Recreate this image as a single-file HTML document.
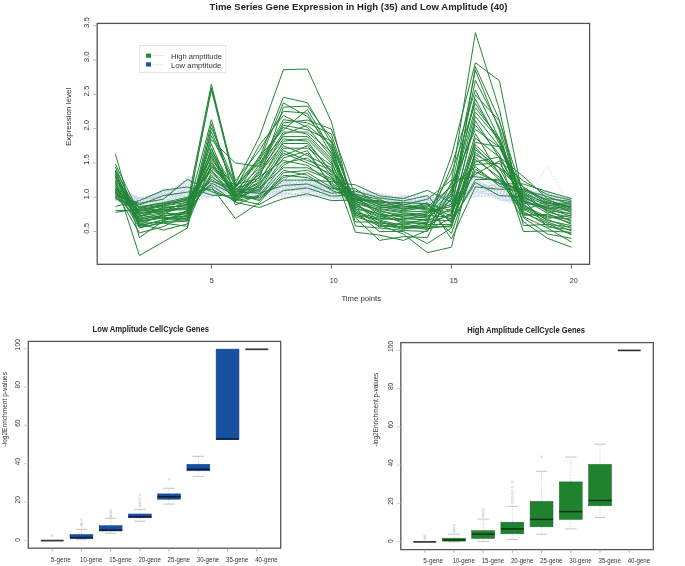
<!DOCTYPE html><html><head><meta charset="utf-8"><style>html,body{margin:0;padding:0;background:#fff;}svg{display:block;will-change:transform;}text{font-family:"Liberation Sans",sans-serif;}</style></head><body>
<svg width="685" height="566" viewBox="0 0 685 566">

<g fill="none" stroke="#8fa2da" stroke-width="0.9" stroke-dasharray="1.2,2" opacity="0.55">
<polyline points="115.4,196.2 139.4,198.5 163.4,197.7 187.4,179.4 211.4,191.9 235.4,193.0 259.4,187.4 283.4,185.1 307.4,191.9 331.4,191.3 355.4,202.5 379.4,203.4 403.4,205.3 427.4,201.6 451.4,193.4 475.4,178.7 499.4,192.7 523.4,203.4 547.4,166.0 571.4,208.9"/>
<polyline points="115.4,184.8 139.4,201.0 163.4,194.0 187.4,192.8 211.4,191.5 235.4,189.8 259.4,183.5 283.4,177.2 307.4,176.6 331.4,183.4 355.4,199.4 379.4,206.7 403.4,197.2 427.4,209.0 451.4,191.2 475.4,177.5 499.4,181.1 523.4,193.9 547.4,196.7 571.4,197.2"/>
<polyline points="115.4,191.4 139.4,203.2 163.4,199.5 187.4,180.2 211.4,188.0 235.4,186.7 259.4,191.9 283.4,179.3 307.4,194.0 331.4,197.9 355.4,193.6 379.4,193.1 403.4,200.4 427.4,209.4 451.4,196.5 475.4,197.2 499.4,182.2 523.4,204.8 547.4,203.5 571.4,199.0"/>
<polyline points="115.4,191.0 139.4,205.7 163.4,198.1 187.4,183.0 211.4,195.4 235.4,195.4 259.4,188.4 283.4,184.5 307.4,180.9 331.4,186.5 355.4,196.3 379.4,200.1 403.4,204.0 427.4,198.9 451.4,198.7 475.4,191.0 499.4,197.5 523.4,197.8 547.4,200.4 571.4,206.0"/>
<polyline points="115.4,185.7 139.4,201.6 163.4,189.4 187.4,197.7 211.4,189.7 235.4,187.7 259.4,185.2 283.4,177.7 307.4,189.3 331.4,192.7 355.4,189.7 379.4,194.2 403.4,198.4 427.4,207.8 451.4,192.5 475.4,194.7 499.4,184.8 523.4,192.5 547.4,191.4 571.4,197.9"/>
<polyline points="115.4,187.4 139.4,205.1 163.4,192.6 187.4,196.3 211.4,181.8 235.4,185.2 259.4,184.5 283.4,180.9 307.4,187.2 331.4,184.8 355.4,200.6 379.4,201.2 403.4,204.4 427.4,198.5 451.4,201.8 475.4,187.4 499.4,184.3 523.4,200.9 547.4,202.5 571.4,201.4"/>
<polyline points="115.4,183.9 139.4,198.1 163.4,198.6 187.4,190.0 211.4,185.3 235.4,183.5 259.4,184.9 283.4,195.6 307.4,183.0 331.4,190.0 355.4,198.6 379.4,194.9 403.4,205.7 427.4,203.6 451.4,197.4 475.4,174.4 499.4,200.1 523.4,198.7 547.4,190.3 571.4,203.5"/>
<polyline points="115.4,197.1 139.4,202.9 163.4,201.8 187.4,200.5 211.4,184.0 235.4,192.6 259.4,189.1 283.4,187.2 307.4,179.8 331.4,199.3 355.4,190.9 379.4,194.6 403.4,209.3 427.4,207.4 451.4,203.5 475.4,192.9 499.4,187.4 523.4,191.2 547.4,192.5 571.4,207.0"/>
<polyline points="115.4,190.5 139.4,202.3 163.4,197.2 187.4,178.7 211.4,188.4 235.4,191.2 259.4,193.3 283.4,188.8 307.4,181.4 331.4,195.3 355.4,198.3 379.4,195.7 403.4,207.3 427.4,207.0 451.4,204.8 475.4,196.0 499.4,194.3 523.4,204.0 547.4,204.1 571.4,206.7"/>
<polyline points="115.4,199.7 139.4,208.9 163.4,205.4 187.4,204.1 211.4,195.0 235.4,195.8 259.4,193.0 283.4,196.7 307.4,195.6 331.4,194.9 355.4,203.3 379.4,205.6 403.4,210.5 427.4,210.9 451.4,206.6 475.4,184.9 499.4,199.6 523.4,206.2 547.4,200.9 571.4,205.6"/>
<polyline points="115.4,183.5 139.4,199.1 163.4,190.8 187.4,197.0 211.4,184.9 235.4,184.5 259.4,194.4 283.4,178.7 307.4,190.3 331.4,182.6 355.4,189.0 379.4,202.7 403.4,200.8 427.4,202.4 451.4,198.3 475.4,178.1 499.4,196.9 523.4,202.2 547.4,206.2 571.4,207.7"/>
<polyline points="115.4,184.4 139.4,199.4 163.4,196.3 187.4,188.6 211.4,187.5 235.4,183.8 259.4,187.0 283.4,187.7 307.4,191.4 331.4,186.1 355.4,195.2 379.4,200.5 403.4,206.5 427.4,197.8 451.4,195.6 475.4,173.8 499.4,189.0 523.4,201.3 547.4,208.8 571.4,200.0"/>
<polyline points="115.4,200.2 139.4,204.2 163.4,189.9 187.4,190.7 211.4,183.6 235.4,190.9 259.4,192.3 283.4,191.9 307.4,185.6 331.4,189.1 355.4,201.0 379.4,207.5 403.4,201.6 427.4,200.5 451.4,196.1 475.4,181.8 499.4,189.6 523.4,201.8 547.4,208.3 571.4,202.1"/>
<polyline points="115.4,198.0 139.4,197.2 163.4,205.9 187.4,187.9 211.4,194.1 235.4,193.3 259.4,191.6 283.4,178.2 307.4,184.0 331.4,197.1 355.4,202.1 379.4,206.4 403.4,199.6 427.4,205.5 451.4,205.3 475.4,193.5 499.4,186.9 523.4,190.8 547.4,199.3 571.4,202.5"/>
<polyline points="115.4,186.1 139.4,198.8 163.4,196.7 187.4,180.9 211.4,180.9 235.4,194.0 259.4,195.8 283.4,179.8 307.4,177.2 331.4,183.0 355.4,191.3 379.4,197.5 403.4,207.7 427.4,204.3 451.4,190.8 475.4,179.4 499.4,193.8 523.4,196.1 547.4,196.1 571.4,210.2"/>
<polyline points="115.4,190.1 139.4,197.5 163.4,193.5 187.4,194.2 211.4,190.6 235.4,194.4 259.4,196.1 283.4,189.8 307.4,188.8 331.4,183.9 355.4,195.9 379.4,204.9 403.4,208.5 427.4,203.2 451.4,194.7 475.4,175.7 499.4,183.2 523.4,203.5 547.4,204.6 571.4,205.3"/>
<polyline points="115.4,191.8 139.4,200.4 163.4,202.7 187.4,185.1 211.4,194.6 235.4,187.4 259.4,192.6 283.4,185.6 307.4,183.5 331.4,192.2 355.4,204.1 379.4,202.3 403.4,208.9 427.4,205.1 451.4,199.1 475.4,180.0 499.4,199.0 523.4,205.7 547.4,198.8 571.4,202.8"/>
<polyline points="115.4,194.5 139.4,206.1 163.4,203.1 187.4,203.4 211.4,192.8 235.4,188.4 259.4,186.3 283.4,183.0 307.4,179.3 331.4,191.8 355.4,201.3 379.4,200.8 403.4,198.8 427.4,199.3 451.4,202.6 475.4,188.6 499.4,192.2 523.4,200.0 547.4,209.9 571.4,208.4"/>
<polyline points="115.4,186.6 139.4,201.3 163.4,195.8 187.4,184.4 211.4,188.9 235.4,190.2 259.4,184.2 283.4,181.4 307.4,182.4 331.4,193.5 355.4,190.5 379.4,193.5 403.4,195.5 427.4,195.8 451.4,195.2 475.4,176.9 499.4,180.1 523.4,191.7 547.4,191.9 571.4,200.4"/>
<polyline points="115.4,194.0 139.4,204.8 163.4,206.3 187.4,201.2 211.4,193.2 235.4,194.7 259.4,194.7 283.4,197.2 307.4,197.2 331.4,190.5 355.4,197.1 379.4,199.0 403.4,202.8 427.4,202.8 451.4,202.2 475.4,195.4 499.4,198.5 523.4,202.6 547.4,210.4 571.4,210.9"/>
<polyline points="115.4,189.6 139.4,199.7 163.4,191.7 187.4,181.6 211.4,189.3 235.4,184.9 259.4,188.1 283.4,188.2 307.4,193.5 331.4,182.1 355.4,195.5 379.4,197.9 403.4,201.2 427.4,200.9 451.4,193.9 475.4,185.5 499.4,185.3 523.4,190.3 547.4,197.2 571.4,198.6"/>
<polyline points="115.4,189.2 139.4,204.5 163.4,189.0 187.4,191.4 211.4,184.5 235.4,187.0 259.4,196.5 283.4,192.5 307.4,196.1 331.4,189.6 355.4,194.4 379.4,197.1 403.4,197.6 427.4,206.3 451.4,207.5 475.4,175.1 499.4,181.6 523.4,198.3 547.4,205.6 571.4,209.5"/>
<polyline points="115.4,200.6 139.4,206.7 163.4,194.9 187.4,201.9 211.4,195.9 235.4,195.1 259.4,190.9 283.4,196.1 307.4,181.9 331.4,187.8 355.4,196.7 379.4,206.0 403.4,210.1 427.4,210.1 451.4,200.9 475.4,192.3 499.4,196.4 523.4,193.4 547.4,209.3 571.4,203.2"/>
<polyline points="115.4,185.2 139.4,207.6 163.4,200.9 187.4,189.3 211.4,196.3 235.4,185.6 259.4,188.8 283.4,182.4 307.4,190.9 331.4,184.3 355.4,200.2 379.4,199.4 403.4,196.4 427.4,203.9 451.4,190.3 475.4,190.4 499.4,182.7 523.4,193.0 547.4,201.9 571.4,209.9"/>
<polyline points="115.4,198.4 139.4,203.8 163.4,203.6 187.4,183.7 211.4,193.7 235.4,196.5 259.4,187.7 283.4,180.3 307.4,180.3 331.4,194.4 355.4,197.9 379.4,196.4 403.4,206.9 427.4,208.6 451.4,207.0 475.4,191.7 499.4,186.4 523.4,194.3 547.4,207.2 571.4,201.1"/>
<polyline points="115.4,192.7 139.4,209.5 163.4,204.1 187.4,193.5 211.4,197.2 235.4,196.8 259.4,185.6 283.4,194.0 307.4,192.5 331.4,188.3 355.4,197.5 379.4,207.1 403.4,210.9 427.4,209.7 451.4,199.6 475.4,188.0 499.4,183.8 523.4,207.0 547.4,205.1 571.4,209.2"/>
<polyline points="115.4,195.8 139.4,201.9 163.4,192.2 187.4,199.8 211.4,191.0 235.4,184.2 259.4,190.5 283.4,194.6 307.4,178.7 331.4,197.5 355.4,199.0 379.4,201.6 403.4,195.1 427.4,206.7 451.4,200.0 475.4,180.6 499.4,200.6 523.4,200.5 547.4,195.1 571.4,201.8"/>
<polyline points="115.4,194.9 139.4,203.5 163.4,200.4 187.4,178.0 211.4,181.4 235.4,196.1 259.4,195.1 283.4,176.6 307.4,178.2 331.4,188.7 355.4,202.9 379.4,203.8 403.4,196.8 427.4,197.4 451.4,196.9 475.4,182.4 499.4,191.1 523.4,194.7 547.4,193.0 571.4,204.9"/>
<polyline points="115.4,187.0 139.4,202.6 163.4,199.9 187.4,176.6 211.4,182.3 235.4,186.0 259.4,189.8 283.4,186.7 307.4,184.5 331.4,185.2 355.4,193.2 379.4,196.8 403.4,204.8 427.4,201.2 451.4,191.7 475.4,186.7 499.4,191.7 523.4,195.2 547.4,198.3 571.4,204.2"/>
<polyline points="115.4,199.3 139.4,205.4 163.4,193.1 187.4,202.6 211.4,196.8 235.4,188.1 259.4,197.2 283.4,195.1 307.4,193.0 331.4,187.4 355.4,192.8 379.4,195.3 403.4,203.2 427.4,204.7 451.4,205.7 475.4,189.2 499.4,198.0 523.4,207.5 547.4,206.7 571.4,197.6"/>
<polyline points="115.4,197.6 139.4,200.7 163.4,191.3 187.4,185.8 211.4,192.4 235.4,189.5 259.4,195.4 283.4,186.1 307.4,186.7 331.4,187.0 355.4,190.1 379.4,201.9 403.4,202.4 427.4,208.2 451.4,197.8 475.4,196.6 499.4,194.8 523.4,192.1 547.4,203.0 571.4,206.3"/>
<polyline points="115.4,198.9 139.4,207.0 163.4,199.0 187.4,177.3 211.4,180.1 235.4,190.5 259.4,183.8 283.4,183.5 307.4,185.1 331.4,185.6 355.4,203.7 379.4,198.3 403.4,199.2 427.4,196.6 451.4,192.1 475.4,194.1 499.4,193.2 523.4,196.9 547.4,194.0 571.4,204.6"/>
<polyline points="115.4,195.4 139.4,209.2 163.4,205.0 187.4,187.2 211.4,190.2 235.4,191.9 259.4,190.2 283.4,193.0 307.4,195.1 331.4,196.2 355.4,189.4 379.4,205.3 403.4,209.7 427.4,202.0 451.4,203.1 475.4,181.2 499.4,190.6 523.4,204.4 547.4,210.9 571.4,207.4"/>
<polyline points="115.4,188.8 139.4,206.4 163.4,204.5 187.4,186.5 211.4,186.7 235.4,186.3 259.4,196.8 283.4,181.9 307.4,188.2 331.4,195.7 355.4,199.8 379.4,204.2 403.4,206.1 427.4,197.0 451.4,201.3 475.4,189.8 499.4,195.4 523.4,197.4 547.4,190.9 571.4,208.1"/>
<polyline points="115.4,187.9 139.4,208.6 163.4,202.2 187.4,192.1 211.4,182.7 235.4,188.8 259.4,186.7 283.4,190.9 307.4,177.7 331.4,190.9 355.4,191.7 379.4,204.5 403.4,200.0 427.4,199.7 451.4,200.5 475.4,183.7 499.4,188.0 523.4,199.6 547.4,201.4 571.4,199.7"/>
<polyline points="115.4,196.7 139.4,208.0 163.4,206.8 187.4,199.1 211.4,180.5 235.4,197.2 259.4,186.0 283.4,193.5 307.4,196.7 331.4,194.0 355.4,192.1 379.4,196.0 403.4,203.6 427.4,198.1 451.4,204.0 475.4,176.3 499.4,188.5 523.4,196.5 547.4,207.7 571.4,198.3"/>
<polyline points="115.4,188.3 139.4,197.8 163.4,195.4 187.4,194.9 211.4,183.1 235.4,191.6 259.4,194.0 283.4,190.3 307.4,189.8 331.4,198.4 355.4,192.5 379.4,193.8 403.4,198.0 427.4,205.9 451.4,193.0 475.4,183.1 499.4,195.9 523.4,206.6 547.4,197.7 571.4,208.8"/>
<polyline points="115.4,193.2 139.4,207.3 163.4,201.3 187.4,195.6 211.4,187.1 235.4,193.7 259.4,193.7 283.4,184.0 307.4,194.6 331.4,196.6 355.4,194.8 379.4,198.6 403.4,202.0 427.4,200.1 451.4,204.4 475.4,186.1 499.4,185.9 523.4,205.3 547.4,193.5 571.4,210.6"/>
<polyline points="115.4,193.6 139.4,200.0 163.4,194.5 187.4,182.3 211.4,185.8 235.4,192.3 259.4,191.2 283.4,191.4 307.4,187.7 331.4,193.1 355.4,201.7 379.4,203.1 403.4,196.0 427.4,196.2 451.4,194.3 475.4,173.2 499.4,180.6 523.4,195.6 547.4,195.6 571.4,199.3"/>
<polyline points="115.4,192.3 139.4,208.3 163.4,190.3 187.4,198.4 211.4,186.2 235.4,189.1 259.4,189.5 283.4,189.3 307.4,186.1 331.4,198.8 355.4,194.0 379.4,199.7 403.4,208.1 427.4,210.5 451.4,206.2 475.4,184.3 499.4,190.1 523.4,199.1 547.4,194.6 571.4,200.7"/>
</g>
<g fill="none" stroke="#228536" stroke-width="1" stroke-linejoin="miter">
<polyline points="115.4,197.7 139.4,217.2 163.4,208.6 187.4,204.3 211.4,163.2 235.4,197.1 259.4,164.6 283.4,119.7 307.4,122.9 331.4,134.0 355.4,208.1 379.4,227.1 403.4,222.7 427.4,223.6 451.4,166.4 475.4,90.0 499.4,138.8 523.4,198.7 547.4,213.4 571.4,224.3"/>
<polyline points="115.4,169.8 139.4,215.7 163.4,213.0 187.4,215.4 211.4,161.6 235.4,195.0 259.4,156.1 283.4,129.8 307.4,109.6 331.4,149.9 355.4,210.2 379.4,223.2 403.4,224.6 427.4,218.7 451.4,195.5 475.4,107.8 499.4,138.1 523.4,203.1 547.4,207.4 571.4,214.4"/>
<polyline points="115.4,190.2 139.4,223.9 163.4,230.0 187.4,223.9 211.4,166.5 235.4,188.2 259.4,145.1 283.4,115.5 307.4,127.5 331.4,156.6 355.4,199.5 379.4,208.5 403.4,211.9 427.4,211.3 451.4,206.5 475.4,142.4 499.4,146.8 523.4,191.8 547.4,204.7 571.4,210.5"/>
<polyline points="115.4,187.7 139.4,219.7 163.4,215.2 187.4,217.0 211.4,175.2 235.4,198.6 259.4,188.9 283.4,162.9 307.4,158.0 331.4,177.1 355.4,212.4 379.4,218.3 403.4,219.7 427.4,213.5 451.4,173.2 475.4,103.5 499.4,140.7 523.4,215.3 547.4,214.6 571.4,220.4"/>
<polyline points="115.4,192.7 139.4,210.2 163.4,211.5 187.4,201.6 211.4,168.2 235.4,188.9 259.4,180.1 283.4,145.8 307.4,155.6 331.4,167.6 355.4,213.5 379.4,220.2 403.4,225.6 427.4,229.5 451.4,218.3 475.4,116.4 499.4,146.7 523.4,200.6 547.4,210.0 571.4,221.7"/>
<polyline points="115.4,195.2 139.4,215.0 163.4,218.8 187.4,216.2 211.4,173.2 235.4,193.1 259.4,191.8 283.4,158.0 307.4,150.7 331.4,185.9 355.4,202.7 379.4,221.2 403.4,227.6 427.4,226.6 451.4,226.8 475.4,159.5 499.4,177.3 523.4,209.2 547.4,221.9 571.4,230.9"/>
<polyline points="115.4,191.1 139.4,218.1 163.4,213.7 187.4,213.7 211.4,149.8 235.4,190.3 259.4,168.1 283.4,125.2 307.4,129.8 331.4,141.1 355.4,205.9 379.4,214.3 403.4,216.8 427.4,217.8 451.4,199.9 475.4,94.8 499.4,120.9 523.4,195.7 547.4,210.9 571.4,213.5"/>
<polyline points="115.4,172.2 139.4,224.7 163.4,214.4 187.4,203.4 211.4,84.1 235.4,185.4 259.4,157.8 283.4,97.3 307.4,102.7 331.4,143.3 355.4,226.0 379.4,228.0 403.4,230.5 427.4,231.5 451.4,182.3 475.4,32.7 499.4,109.5 523.4,217.8 547.4,233.9 571.4,238.4"/>
<polyline points="115.4,183.2 139.4,222.2 163.4,217.4 187.4,218.7 211.4,153.7 235.4,193.8 259.4,200.6 283.4,172.7 307.4,170.3 331.4,180.1 355.4,197.0 379.4,204.5 403.4,209.0 427.4,205.9 451.4,215.8 475.4,154.6 499.4,167.6 523.4,186.9 547.4,202.1 571.4,209.5"/>
<polyline points="115.4,196.9 139.4,212.3 163.4,210.8 187.4,209.5 211.4,183.0 235.4,195.5 259.4,183.0 283.4,155.6 307.4,145.8 331.4,175.7 355.4,209.1 379.4,213.4 403.4,223.6 427.4,228.5 451.4,225.6 475.4,152.2 499.4,173.5 523.4,216.5 547.4,228.0 571.4,242.0"/>
<polyline points="115.4,175.9 139.4,227.2 163.4,223.2 187.4,226.3 211.4,135.8 235.4,186.1 259.4,161.2 283.4,102.9 307.4,116.5 331.4,147.7 355.4,211.3 379.4,231.6 403.4,231.5 427.4,243.6 451.4,228.0 475.4,138.0 499.4,157.2 523.4,201.9 547.4,206.5 571.4,211.5"/>
<polyline points="115.4,154.0 139.4,237.6 163.4,221.0 187.4,210.4 211.4,87.8 235.4,180.6 259.4,150.6 283.4,111.3 307.4,113.1 331.4,154.4 355.4,221.9 379.4,222.2 403.4,228.5 427.4,227.6 451.4,193.3 475.4,99.2 499.4,143.5 523.4,208.0 547.4,219.5 571.4,228.3"/>
<polyline points="115.4,174.7 139.4,225.6 163.4,220.3 187.4,212.9 211.4,159.6 235.4,186.8 259.4,159.5 283.4,127.5 307.4,134.4 331.4,158.8 355.4,204.8 379.4,216.3 403.4,221.7 427.4,224.6 451.4,224.4 475.4,144.8 499.4,168.1 523.4,211.6 547.4,225.6 571.4,233.6"/>
<polyline points="115.4,189.4 139.4,208.2 163.4,204.9 187.4,198.1 211.4,171.5 235.4,189.6 259.4,190.3 283.4,150.7 307.4,160.5 331.4,169.8 355.4,202.0 379.4,225.1 403.4,234.0 427.4,252.7 451.4,247.2 475.4,149.7 499.4,168.0 523.4,192.8 547.4,212.1 571.4,217.7"/>
<polyline points="115.4,185.7 139.4,221.4 163.4,216.6 187.4,211.2 211.4,119.7 235.4,199.7 259.4,184.5 283.4,148.2 307.4,148.2 331.4,165.4 355.4,232.2 379.4,235.1 403.4,240.4 427.4,230.5 451.4,197.7 475.4,80.2 499.4,127.4 523.4,206.7 547.4,218.3 571.4,215.4"/>
<polyline points="115.4,188.6 139.4,228.0 163.4,221.8 187.4,219.5 211.4,131.8 235.4,187.5 259.4,162.9 283.4,136.6 307.4,136.6 331.4,161.0 355.4,217.8 379.4,240.4 403.4,236.6 427.4,237.5 451.4,188.9 475.4,70.4 499.4,130.3 523.4,225.6 547.4,224.4 571.4,227.0"/>
<polyline points="115.4,194.4 139.4,206.8 163.4,202.7 187.4,197.2 211.4,186.9 235.4,218.5 259.4,202.6 283.4,175.2 307.4,177.6 331.4,188.9 355.4,188.7 379.4,205.5 403.4,207.0 427.4,204.8 451.4,221.9 475.4,182.5 499.4,195.7 523.4,196.7 547.4,209.1 571.4,205.6"/>
<polyline points="115.4,171.0 139.4,226.4 163.4,219.6 187.4,217.9 211.4,147.8 235.4,204.9 259.4,194.8 283.4,165.4 307.4,153.1 331.4,184.5 355.4,200.8 379.4,210.4 403.4,217.8 427.4,220.7 451.4,208.7 475.4,147.3 499.4,172.8 523.4,214.1 547.4,215.8 571.4,223.0"/>
<polyline points="115.4,198.6 139.4,209.5 163.4,205.6 187.4,202.5 211.4,181.0 235.4,191.0 259.4,193.3 283.4,185.4 307.4,184.0 331.4,193.3 355.4,191.2 379.4,197.9 403.4,200.9 427.4,195.6 451.4,223.2 475.4,179.6 499.4,179.3 523.4,194.8 547.4,205.6 571.4,203.7"/>
<polyline points="115.4,186.9 139.4,213.0 163.4,212.2 187.4,206.9 211.4,179.1 235.4,194.5 259.4,197.7 283.4,177.6 307.4,172.7 331.4,187.4 355.4,195.0 379.4,207.5 403.4,208.0 427.4,208.1 451.4,219.5 475.4,169.3 499.4,183.7 523.4,189.9 547.4,196.6 571.4,204.6"/>
<polyline points="115.4,196.1 139.4,203.3 163.4,199.2 187.4,179.4 211.4,191.6 235.4,199.2 259.4,204.5 283.4,190.6 307.4,187.9 331.4,196.2 355.4,194.4 379.4,199.3 403.4,209.9 427.4,202.7 451.4,239.0 475.4,186.9 499.4,189.3 523.4,188.9 547.4,200.3 571.4,207.6"/>
<polyline points="115.4,177.1 139.4,218.9 163.4,215.9 187.4,212.0 211.4,143.8 235.4,201.2 259.4,185.9 283.4,153.1 307.4,162.9 331.4,174.2 355.4,203.8 379.4,209.4 403.4,212.9 427.4,214.5 451.4,184.5 475.4,129.4 499.4,147.1 523.4,187.9 547.4,203.9 571.4,202.7"/>
<polyline points="115.4,193.6 139.4,205.0 163.4,195.6 187.4,192.1 211.4,189.3 235.4,200.7 259.4,196.2 283.4,170.3 307.4,175.2 331.4,190.3 355.4,198.9 379.4,201.6 403.4,204.1 427.4,209.1 451.4,212.1 475.4,171.7 499.4,183.7 523.4,184.0 547.4,191.7 571.4,198.6"/>
<polyline points="115.4,179.6 139.4,223.1 163.4,222.5 187.4,221.2 211.4,123.8 235.4,196.5 259.4,181.5 283.4,141.2 307.4,138.9 331.4,163.2 355.4,214.5 379.4,226.1 403.4,226.6 427.4,225.6 451.4,213.4 475.4,66.6 499.4,120.0 523.4,210.4 547.4,201.2 571.4,212.5"/>
<polyline points="115.4,164.2 139.4,213.7 163.4,209.3 187.4,207.8 211.4,90.2 235.4,184.7 259.4,178.3 283.4,107.1 307.4,106.1 331.4,138.9 355.4,207.0 379.4,217.3 403.4,213.8 427.4,215.6 451.4,217.0 475.4,133.7 499.4,174.4 523.4,221.7 547.4,238.3 571.4,247.2"/>
<polyline points="115.4,191.9 139.4,232.9 163.4,226.6 187.4,214.5 211.4,139.8 235.4,162.9 259.4,166.4 283.4,122.9 307.4,120.0 331.4,129.1 355.4,196.3 379.4,215.3 403.4,215.8 427.4,212.4 451.4,204.3 475.4,112.1 499.4,139.8 523.4,205.5 547.4,217.0 571.4,219.0"/>
<polyline points="115.4,206.4 139.4,200.6 163.4,190.3 187.4,187.0 211.4,195.1 235.4,196.0 259.4,199.2 283.4,180.1 307.4,180.1 331.4,181.5 355.4,184.9 379.4,195.8 403.4,198.6 427.4,190.3 451.4,202.1 475.4,174.2 499.4,160.9 523.4,181.0 547.4,194.7 571.4,200.3"/>
<polyline points="115.4,184.5 139.4,211.6 163.4,204.2 187.4,200.7 211.4,157.6 235.4,197.6 259.4,173.2 283.4,143.5 307.4,143.5 331.4,171.2 355.4,195.7 379.4,203.6 403.4,206.0 427.4,210.2 451.4,233.5 475.4,164.4 499.4,163.2 523.4,197.7 547.4,208.3 571.4,216.4"/>
<polyline points="115.4,173.5 139.4,216.4 163.4,207.1 187.4,206.0 211.4,155.7 235.4,198.1 259.4,169.8 283.4,132.1 307.4,132.1 331.4,152.2 355.4,215.6 379.4,219.2 403.4,218.7 427.4,219.7 451.4,220.7 475.4,157.0 499.4,179.8 523.4,212.9 547.4,223.2 571.4,234.9"/>
<polyline points="115.4,167.0 139.4,220.6 163.4,218.1 187.4,220.4 211.4,164.9 235.4,192.4 259.4,174.9 283.4,134.4 307.4,125.2 331.4,145.5 355.4,201.4 379.4,212.4 403.4,220.7 427.4,222.7 451.4,214.6 475.4,120.8 499.4,157.8 523.4,231.5 547.4,231.0 571.4,232.3"/>
<polyline points="115.4,182.0 139.4,207.5 163.4,203.4 187.4,199.0 211.4,185.0 235.4,202.3 259.4,207.5 283.4,198.6 307.4,193.8 331.4,200.6 355.4,200.1 379.4,200.6 403.4,205.0 427.4,199.2 451.4,180.1 475.4,176.6 499.4,181.2 523.4,190.8 547.4,199.5 571.4,208.6"/>
<polyline points="115.4,210.3 139.4,210.9 163.4,206.4 187.4,199.8 211.4,169.9 235.4,201.8 259.4,171.5 283.4,138.9 307.4,141.2 331.4,172.7 355.4,198.2 379.4,211.4 403.4,214.8 427.4,216.7 451.4,191.1 475.4,125.1 499.4,154.5 523.4,204.3 547.4,220.7 571.4,225.6"/>
<polyline points="115.4,212.3 139.4,208.9 163.4,210.0 187.4,208.7 211.4,177.1 235.4,191.7 259.4,187.4 283.4,167.8 307.4,167.8 331.4,178.6 355.4,193.8 379.4,202.6 403.4,202.5 427.4,203.8 451.4,210.9 475.4,161.9 499.4,156.9 523.4,176.6 547.4,198.6 571.4,201.5"/>
<polyline points="115.4,178.3 139.4,214.3 163.4,207.8 187.4,205.1 211.4,151.8 235.4,200.2 259.4,176.6 283.4,160.5 307.4,165.4 331.4,183.0 355.4,197.6 379.4,206.5 403.4,210.9 427.4,207.0 451.4,186.7 475.4,166.8 499.4,186.1 523.4,193.8 547.4,203.0 571.4,206.6"/>
<polyline points="115.4,180.8 139.4,255.5 163.4,241.8 187.4,228.0 211.4,127.8 235.4,184.0 259.4,136.9 283.4,69.7 307.4,69.0 331.4,121.8 355.4,216.7 379.4,224.1 403.4,229.5 427.4,221.7 451.4,156.1 475.4,62.7 499.4,80.7 523.4,199.6 547.4,226.8 571.4,229.6"/>
</g>
<rect x="97.2" y="23.4" width="492.4" height="240.9" fill="none" stroke="#555" stroke-width="1.3"/>
<line x1="211.4" y1="264.3" x2="211.4" y2="268.5" stroke="#555" stroke-width="1"/>
<text x="209.7" y="282.6" font-size="7.2" fill="#333">5</text>
<line x1="331.4" y1="264.3" x2="331.4" y2="268.5" stroke="#555" stroke-width="1"/>
<text x="329.7" y="282.6" font-size="7.2" fill="#333">10</text>
<line x1="451.4" y1="264.3" x2="451.4" y2="268.5" stroke="#555" stroke-width="1"/>
<text x="449.7" y="282.6" font-size="7.2" fill="#333">15</text>
<line x1="571.4" y1="264.3" x2="571.4" y2="268.5" stroke="#555" stroke-width="1"/>
<text x="569.7" y="282.6" font-size="7.2" fill="#333">20</text>
<line x1="93" y1="231.5" x2="97.2" y2="231.5" stroke="#aaa" stroke-width="0.8"/>
<text transform="translate(89.0,233.7) rotate(-90)" font-size="7.8" fill="#333">0.5</text>
<line x1="93" y1="197.2" x2="97.2" y2="197.2" stroke="#aaa" stroke-width="0.8"/>
<text transform="translate(89.0,199.4) rotate(-90)" font-size="7.8" fill="#333">1.0</text>
<line x1="93" y1="162.9" x2="97.2" y2="162.9" stroke="#aaa" stroke-width="0.8"/>
<text transform="translate(89.0,165.1) rotate(-90)" font-size="7.8" fill="#333">1.5</text>
<line x1="93" y1="128.6" x2="97.2" y2="128.6" stroke="#aaa" stroke-width="0.8"/>
<text transform="translate(89.0,130.8) rotate(-90)" font-size="7.8" fill="#333">2.0</text>
<line x1="93" y1="94.4" x2="97.2" y2="94.4" stroke="#aaa" stroke-width="0.8"/>
<text transform="translate(89.0,96.6) rotate(-90)" font-size="7.8" fill="#333">2.5</text>
<line x1="93" y1="60.1" x2="97.2" y2="60.1" stroke="#aaa" stroke-width="0.8"/>
<text transform="translate(89.0,62.3) rotate(-90)" font-size="7.8" fill="#333">3.0</text>
<line x1="93" y1="25.8" x2="97.2" y2="25.8" stroke="#aaa" stroke-width="0.8"/>
<text transform="translate(89.0,28.0) rotate(-90)" font-size="7.8" fill="#333">3.5</text>
<text x="209.6" y="10.4" font-size="9.2" font-weight="bold" fill="#222" textLength="297.8" lengthAdjust="spacingAndGlyphs">Time Series Gene Expression in High (35) and Low Amplitude (40)</text>
<text x="341.4" y="300.8" font-size="7.6" fill="#333" textLength="39.7" lengthAdjust="spacingAndGlyphs">Time points</text>
<text transform="translate(71.0,146.1) rotate(-90)" font-size="7.6" fill="#333" textLength="58.3" lengthAdjust="spacingAndGlyphs">Expression level</text>
<rect x="139.3" y="45.6" width="86.6" height="27" fill="#fff" stroke="#ddd" stroke-width="0.8"/>
<rect x="146" y="53.6" width="5" height="4.2" fill="#238a34"/>
<rect x="146" y="62.3" width="5" height="4.2" fill="#1f4fa0"/>
<line x1="152.5" y1="55.7" x2="163.7" y2="55.7" stroke="#cfe3d2" stroke-width="0.8"/>
<line x1="152.5" y1="64.4" x2="163.7" y2="64.4" stroke="#c8d0e8" stroke-width="0.8" stroke-dasharray="2,2"/>
<text x="171" y="59.1" font-size="7.4" fill="#333" textLength="51" lengthAdjust="spacingAndGlyphs">High amptitude</text>
<text x="171" y="68.4" font-size="7.4" fill="#333" textLength="50.3" lengthAdjust="spacingAndGlyphs">Low amptitude</text>
<circle cx="52.2" cy="535.5" r="1.0" fill="none" stroke="#b8b8b8" stroke-width="0.5"/>
<line x1="40.8" y1="540.6" x2="63.7" y2="540.6" stroke="#333" stroke-width="1.7"/>
<line x1="81.5" y1="534.5" x2="81.5" y2="529.4" stroke="#bbb" stroke-width="0.6" stroke-dasharray="1.5,1.5"/>
<line x1="81.5" y1="538.7" x2="81.5" y2="539.6" stroke="#bbb" stroke-width="0.6" stroke-dasharray="1.5,1.5"/>
<line x1="75.7" y1="529.4" x2="87.3" y2="529.4" stroke="#aaa" stroke-width="0.7"/>
<line x1="75.7" y1="539.6" x2="87.3" y2="539.6" stroke="#aaa" stroke-width="0.7"/>
<circle cx="81.5" cy="519.7" r="1.0" fill="none" stroke="#b8b8b8" stroke-width="0.5"/>
<circle cx="81.5" cy="523.7" r="1.0" fill="none" stroke="#b8b8b8" stroke-width="0.5"/>
<circle cx="81.5" cy="525.0" r="1.0" fill="none" stroke="#b8b8b8" stroke-width="0.5"/>
<rect x="70.0" y="534.5" width="22.9" height="4.2" fill="#1850a0" stroke="#163f80" stroke-width="0.5"/>
<line x1="70.0" y1="537.6" x2="92.9" y2="537.6" stroke="#101c38" stroke-width="1.5"/>
<line x1="110.7" y1="525.7" x2="110.7" y2="518.3" stroke="#bbb" stroke-width="0.6" stroke-dasharray="1.5,1.5"/>
<line x1="110.7" y1="531.0" x2="110.7" y2="533.3" stroke="#bbb" stroke-width="0.6" stroke-dasharray="1.5,1.5"/>
<line x1="104.9" y1="518.3" x2="116.5" y2="518.3" stroke="#aaa" stroke-width="0.7"/>
<line x1="104.9" y1="533.3" x2="116.5" y2="533.3" stroke="#aaa" stroke-width="0.7"/>
<circle cx="110.7" cy="510.8" r="1.0" fill="none" stroke="#b8b8b8" stroke-width="0.5"/>
<circle cx="110.7" cy="513.0" r="1.0" fill="none" stroke="#b8b8b8" stroke-width="0.5"/>
<circle cx="110.7" cy="515.5" r="1.0" fill="none" stroke="#b8b8b8" stroke-width="0.5"/>
<circle cx="110.7" cy="516.5" r="1.0" fill="none" stroke="#b8b8b8" stroke-width="0.5"/>
<rect x="99.2" y="525.7" width="22.9" height="5.3" fill="#1850a0" stroke="#163f80" stroke-width="0.5"/>
<line x1="99.2" y1="530.0" x2="122.1" y2="530.0" stroke="#101c38" stroke-width="1.5"/>
<line x1="139.9" y1="514.0" x2="139.9" y2="509.3" stroke="#bbb" stroke-width="0.6" stroke-dasharray="1.5,1.5"/>
<line x1="139.9" y1="517.8" x2="139.9" y2="521.2" stroke="#bbb" stroke-width="0.6" stroke-dasharray="1.5,1.5"/>
<line x1="134.1" y1="509.3" x2="145.7" y2="509.3" stroke="#aaa" stroke-width="0.7"/>
<line x1="134.1" y1="521.2" x2="145.7" y2="521.2" stroke="#aaa" stroke-width="0.7"/>
<circle cx="139.9" cy="495.2" r="1.0" fill="none" stroke="#b8b8b8" stroke-width="0.5"/>
<circle cx="139.9" cy="499.0" r="1.0" fill="none" stroke="#b8b8b8" stroke-width="0.5"/>
<circle cx="139.9" cy="502.0" r="1.0" fill="none" stroke="#b8b8b8" stroke-width="0.5"/>
<circle cx="139.9" cy="504.0" r="1.0" fill="none" stroke="#b8b8b8" stroke-width="0.5"/>
<circle cx="139.9" cy="506.0" r="1.0" fill="none" stroke="#b8b8b8" stroke-width="0.5"/>
<rect x="128.4" y="514.0" width="22.9" height="3.8" fill="#1850a0" stroke="#163f80" stroke-width="0.5"/>
<line x1="128.4" y1="516.8" x2="151.3" y2="516.8" stroke="#101c38" stroke-width="1.5"/>
<line x1="169.1" y1="493.9" x2="169.1" y2="488.3" stroke="#bbb" stroke-width="0.6" stroke-dasharray="1.5,1.5"/>
<line x1="169.1" y1="499.2" x2="169.1" y2="504.1" stroke="#bbb" stroke-width="0.6" stroke-dasharray="1.5,1.5"/>
<line x1="163.3" y1="488.3" x2="174.9" y2="488.3" stroke="#aaa" stroke-width="0.7"/>
<line x1="163.3" y1="504.1" x2="174.9" y2="504.1" stroke="#aaa" stroke-width="0.7"/>
<circle cx="169.1" cy="479.3" r="1.0" fill="none" stroke="#b8b8b8" stroke-width="0.5"/>
<rect x="157.6" y="493.9" width="22.9" height="5.3" fill="#1850a0" stroke="#163f80" stroke-width="0.5"/>
<line x1="157.6" y1="496.8" x2="180.5" y2="496.8" stroke="#101c38" stroke-width="1.5"/>
<line x1="198.3" y1="464.3" x2="198.3" y2="456.3" stroke="#bbb" stroke-width="0.6" stroke-dasharray="1.5,1.5"/>
<line x1="198.3" y1="470.8" x2="198.3" y2="476.4" stroke="#bbb" stroke-width="0.6" stroke-dasharray="1.5,1.5"/>
<line x1="192.5" y1="456.3" x2="204.1" y2="456.3" stroke="#aaa" stroke-width="0.7"/>
<line x1="192.5" y1="476.4" x2="204.1" y2="476.4" stroke="#aaa" stroke-width="0.7"/>
<rect x="186.9" y="464.3" width="22.9" height="6.5" fill="#1850a0" stroke="#163f80" stroke-width="0.5"/>
<line x1="186.9" y1="469.3" x2="209.8" y2="469.3" stroke="#101c38" stroke-width="1.5"/>
<rect x="216.1" y="349.1" width="22.9" height="90.5" fill="#1850a0" stroke="#163f80" stroke-width="0.5"/>
<line x1="216.1" y1="439.0" x2="239.0" y2="439.0" stroke="#101c38" stroke-width="1.5"/>
<line x1="245.3" y1="349.3" x2="268.2" y2="349.3" stroke="#333" stroke-width="1.7"/>
<rect x="28.3" y="341.4" width="252.4" height="206.8" fill="none" stroke="#555" stroke-width="1.3"/>
<line x1="24.0" y1="540.3" x2="28.3" y2="540.3" stroke="#bbb" stroke-width="0.7"/>
<text transform="translate(20.3,541.8) rotate(-90)" font-size="6.6" fill="#333">0</text>
<line x1="24.0" y1="502.0" x2="28.3" y2="502.0" stroke="#bbb" stroke-width="0.7"/>
<text transform="translate(20.3,503.5) rotate(-90)" font-size="6.6" fill="#333">20</text>
<line x1="24.0" y1="463.7" x2="28.3" y2="463.7" stroke="#bbb" stroke-width="0.7"/>
<text transform="translate(20.3,465.2) rotate(-90)" font-size="6.6" fill="#333">40</text>
<line x1="24.0" y1="425.3" x2="28.3" y2="425.3" stroke="#bbb" stroke-width="0.7"/>
<text transform="translate(20.3,426.8) rotate(-90)" font-size="6.6" fill="#333">60</text>
<line x1="24.0" y1="387.0" x2="28.3" y2="387.0" stroke="#bbb" stroke-width="0.7"/>
<text transform="translate(20.3,388.5) rotate(-90)" font-size="6.6" fill="#333">80</text>
<line x1="24.0" y1="348.7" x2="28.3" y2="348.7" stroke="#bbb" stroke-width="0.7"/>
<text transform="translate(20.3,350.2) rotate(-90)" font-size="6.6" fill="#333">100</text>
<line x1="52.2" y1="548.2" x2="52.2" y2="551.5" stroke="#999" stroke-width="0.7"/>
<text x="50.8" y="561.5" font-size="6.3" fill="#333" textLength="20" lengthAdjust="spacingAndGlyphs">5-gene</text>
<line x1="81.5" y1="548.2" x2="81.5" y2="551.5" stroke="#999" stroke-width="0.7"/>
<text x="80.0" y="561.5" font-size="6.3" fill="#333" textLength="22.4" lengthAdjust="spacingAndGlyphs">10-gene</text>
<line x1="110.7" y1="548.2" x2="110.7" y2="551.5" stroke="#999" stroke-width="0.7"/>
<text x="109.2" y="561.5" font-size="6.3" fill="#333" textLength="22.4" lengthAdjust="spacingAndGlyphs">15-gene</text>
<line x1="139.9" y1="548.2" x2="139.9" y2="551.5" stroke="#999" stroke-width="0.7"/>
<text x="138.4" y="561.5" font-size="6.3" fill="#333" textLength="22.4" lengthAdjust="spacingAndGlyphs">20-gene</text>
<line x1="169.1" y1="548.2" x2="169.1" y2="551.5" stroke="#999" stroke-width="0.7"/>
<text x="167.6" y="561.5" font-size="6.3" fill="#333" textLength="22.4" lengthAdjust="spacingAndGlyphs">25-gene</text>
<line x1="198.3" y1="548.2" x2="198.3" y2="551.5" stroke="#999" stroke-width="0.7"/>
<text x="196.8" y="561.5" font-size="6.3" fill="#333" textLength="22.4" lengthAdjust="spacingAndGlyphs">30-gene</text>
<line x1="227.5" y1="548.2" x2="227.5" y2="551.5" stroke="#999" stroke-width="0.7"/>
<text x="226.0" y="561.5" font-size="6.3" fill="#333" textLength="22.4" lengthAdjust="spacingAndGlyphs">35-gene</text>
<line x1="256.7" y1="548.2" x2="256.7" y2="551.5" stroke="#999" stroke-width="0.7"/>
<text x="255.2" y="561.5" font-size="6.3" fill="#333" textLength="22.4" lengthAdjust="spacingAndGlyphs">40-gene</text>
<text x="92.6" y="331.9" font-size="8.4" font-weight="bold" fill="#222" textLength="116.4" lengthAdjust="spacingAndGlyphs">Low Amplitude CellCycle Genes</text>
<text transform="translate(7.3,446.5) rotate(-90)" font-size="6.4" fill="#333" textLength="74.5" lengthAdjust="spacingAndGlyphs">-log2Enrichment p-values</text>
<circle cx="424.8" cy="535.5" r="1.0" fill="none" stroke="#b8b8b8" stroke-width="0.5"/>
<circle cx="424.8" cy="537.5" r="1.0" fill="none" stroke="#b8b8b8" stroke-width="0.5"/>
<circle cx="424.8" cy="539.0" r="1.0" fill="none" stroke="#b8b8b8" stroke-width="0.5"/>
<line x1="413.3" y1="541.9" x2="436.2" y2="541.9" stroke="#333" stroke-width="1.7"/>
<line x1="454.0" y1="538.2" x2="454.0" y2="534.2" stroke="#bbb" stroke-width="0.6" stroke-dasharray="1.5,1.5"/>
<line x1="454.0" y1="541.1" x2="454.0" y2="541.8" stroke="#bbb" stroke-width="0.6" stroke-dasharray="1.5,1.5"/>
<line x1="448.2" y1="534.2" x2="459.8" y2="534.2" stroke="#aaa" stroke-width="0.7"/>
<line x1="448.2" y1="541.8" x2="459.8" y2="541.8" stroke="#aaa" stroke-width="0.7"/>
<circle cx="454.0" cy="525.2" r="1.0" fill="none" stroke="#b8b8b8" stroke-width="0.5"/>
<circle cx="454.0" cy="528.0" r="1.0" fill="none" stroke="#b8b8b8" stroke-width="0.5"/>
<circle cx="454.0" cy="530.0" r="1.0" fill="none" stroke="#b8b8b8" stroke-width="0.5"/>
<circle cx="454.0" cy="531.5" r="1.0" fill="none" stroke="#b8b8b8" stroke-width="0.5"/>
<rect x="442.5" y="538.2" width="22.9" height="2.9" fill="#20822f" stroke="#1a6a28" stroke-width="0.5"/>
<line x1="442.5" y1="540.0" x2="465.4" y2="540.0" stroke="#0c3512" stroke-width="1.5"/>
<line x1="483.2" y1="530.7" x2="483.2" y2="519.1" stroke="#bbb" stroke-width="0.6" stroke-dasharray="1.5,1.5"/>
<line x1="483.2" y1="538.4" x2="483.2" y2="541.4" stroke="#bbb" stroke-width="0.6" stroke-dasharray="1.5,1.5"/>
<line x1="477.4" y1="519.1" x2="489.0" y2="519.1" stroke="#aaa" stroke-width="0.7"/>
<line x1="477.4" y1="541.4" x2="489.0" y2="541.4" stroke="#aaa" stroke-width="0.7"/>
<circle cx="483.2" cy="509.3" r="1.0" fill="none" stroke="#b8b8b8" stroke-width="0.5"/>
<circle cx="483.2" cy="511.5" r="1.0" fill="none" stroke="#b8b8b8" stroke-width="0.5"/>
<circle cx="483.2" cy="514.0" r="1.0" fill="none" stroke="#b8b8b8" stroke-width="0.5"/>
<circle cx="483.2" cy="516.0" r="1.0" fill="none" stroke="#b8b8b8" stroke-width="0.5"/>
<rect x="471.7" y="530.7" width="22.9" height="7.7" fill="#20822f" stroke="#1a6a28" stroke-width="0.5"/>
<line x1="471.7" y1="534.2" x2="494.6" y2="534.2" stroke="#0c3512" stroke-width="1.5"/>
<line x1="512.4" y1="522.2" x2="512.4" y2="506.3" stroke="#bbb" stroke-width="0.6" stroke-dasharray="1.5,1.5"/>
<line x1="512.4" y1="533.8" x2="512.4" y2="539.5" stroke="#bbb" stroke-width="0.6" stroke-dasharray="1.5,1.5"/>
<line x1="506.6" y1="506.3" x2="518.2" y2="506.3" stroke="#aaa" stroke-width="0.7"/>
<line x1="506.6" y1="539.5" x2="518.2" y2="539.5" stroke="#aaa" stroke-width="0.7"/>
<circle cx="512.4" cy="481.9" r="1.0" fill="none" stroke="#b8b8b8" stroke-width="0.5"/>
<circle cx="512.4" cy="487.0" r="1.0" fill="none" stroke="#b8b8b8" stroke-width="0.5"/>
<circle cx="512.4" cy="491.0" r="1.0" fill="none" stroke="#b8b8b8" stroke-width="0.5"/>
<circle cx="512.4" cy="494.0" r="1.0" fill="none" stroke="#b8b8b8" stroke-width="0.5"/>
<circle cx="512.4" cy="497.0" r="1.0" fill="none" stroke="#b8b8b8" stroke-width="0.5"/>
<circle cx="512.4" cy="500.0" r="1.0" fill="none" stroke="#b8b8b8" stroke-width="0.5"/>
<circle cx="512.4" cy="503.0" r="1.0" fill="none" stroke="#b8b8b8" stroke-width="0.5"/>
<rect x="500.9" y="522.2" width="22.9" height="11.6" fill="#20822f" stroke="#1a6a28" stroke-width="0.5"/>
<line x1="500.9" y1="528.9" x2="523.8" y2="528.9" stroke="#0c3512" stroke-width="1.5"/>
<line x1="541.6" y1="501.4" x2="541.6" y2="471.3" stroke="#bbb" stroke-width="0.6" stroke-dasharray="1.5,1.5"/>
<line x1="541.6" y1="526.8" x2="541.6" y2="534.2" stroke="#bbb" stroke-width="0.6" stroke-dasharray="1.5,1.5"/>
<line x1="535.8" y1="471.3" x2="547.4" y2="471.3" stroke="#aaa" stroke-width="0.7"/>
<line x1="535.8" y1="534.2" x2="547.4" y2="534.2" stroke="#aaa" stroke-width="0.7"/>
<circle cx="541.6" cy="456.9" r="1.0" fill="none" stroke="#b8b8b8" stroke-width="0.5"/>
<rect x="530.1" y="501.4" width="22.9" height="25.4" fill="#20822f" stroke="#1a6a28" stroke-width="0.5"/>
<line x1="530.1" y1="519.4" x2="553.0" y2="519.4" stroke="#0c3512" stroke-width="1.5"/>
<line x1="570.8" y1="481.9" x2="570.8" y2="457.1" stroke="#bbb" stroke-width="0.6" stroke-dasharray="1.5,1.5"/>
<line x1="570.8" y1="519.4" x2="570.8" y2="528.9" stroke="#bbb" stroke-width="0.6" stroke-dasharray="1.5,1.5"/>
<line x1="565.0" y1="457.1" x2="576.6" y2="457.1" stroke="#aaa" stroke-width="0.7"/>
<line x1="565.0" y1="528.9" x2="576.6" y2="528.9" stroke="#aaa" stroke-width="0.7"/>
<rect x="559.3" y="481.9" width="22.9" height="37.5" fill="#20822f" stroke="#1a6a28" stroke-width="0.5"/>
<line x1="559.3" y1="511.6" x2="582.2" y2="511.6" stroke="#0c3512" stroke-width="1.5"/>
<line x1="600.0" y1="464.4" x2="600.0" y2="444.2" stroke="#bbb" stroke-width="0.6" stroke-dasharray="1.5,1.5"/>
<line x1="600.0" y1="505.8" x2="600.0" y2="517.5" stroke="#bbb" stroke-width="0.6" stroke-dasharray="1.5,1.5"/>
<line x1="594.2" y1="444.2" x2="605.8" y2="444.2" stroke="#aaa" stroke-width="0.7"/>
<line x1="594.2" y1="517.5" x2="605.8" y2="517.5" stroke="#aaa" stroke-width="0.7"/>
<rect x="588.6" y="464.4" width="22.9" height="41.4" fill="#20822f" stroke="#1a6a28" stroke-width="0.5"/>
<line x1="588.6" y1="500.5" x2="611.5" y2="500.5" stroke="#0c3512" stroke-width="1.5"/>
<line x1="617.8" y1="350.4" x2="640.7" y2="350.4" stroke="#333" stroke-width="1.7"/>
<rect x="400.8" y="342.6" width="252.5" height="207.0" fill="none" stroke="#555" stroke-width="1.3"/>
<line x1="396.5" y1="541.5" x2="400.8" y2="541.5" stroke="#bbb" stroke-width="0.7"/>
<text transform="translate(392.8,543.0) rotate(-90)" font-size="6.6" fill="#333">0</text>
<line x1="396.5" y1="503.3" x2="400.8" y2="503.3" stroke="#bbb" stroke-width="0.7"/>
<text transform="translate(392.8,504.8) rotate(-90)" font-size="6.6" fill="#333">20</text>
<line x1="396.5" y1="465.1" x2="400.8" y2="465.1" stroke="#bbb" stroke-width="0.7"/>
<text transform="translate(392.8,466.6) rotate(-90)" font-size="6.6" fill="#333">40</text>
<line x1="396.5" y1="426.8" x2="400.8" y2="426.8" stroke="#bbb" stroke-width="0.7"/>
<text transform="translate(392.8,428.3) rotate(-90)" font-size="6.6" fill="#333">60</text>
<line x1="396.5" y1="388.6" x2="400.8" y2="388.6" stroke="#bbb" stroke-width="0.7"/>
<text transform="translate(392.8,390.1) rotate(-90)" font-size="6.6" fill="#333">80</text>
<line x1="396.5" y1="350.4" x2="400.8" y2="350.4" stroke="#bbb" stroke-width="0.7"/>
<text transform="translate(392.8,351.9) rotate(-90)" font-size="6.6" fill="#333">100</text>
<line x1="424.8" y1="549.6" x2="424.8" y2="552.9" stroke="#999" stroke-width="0.7"/>
<text x="423.2" y="562.9" font-size="6.3" fill="#333" textLength="20" lengthAdjust="spacingAndGlyphs">5-gene</text>
<line x1="454.0" y1="549.6" x2="454.0" y2="552.9" stroke="#999" stroke-width="0.7"/>
<text x="452.5" y="562.9" font-size="6.3" fill="#333" textLength="22.4" lengthAdjust="spacingAndGlyphs">10-gene</text>
<line x1="483.2" y1="549.6" x2="483.2" y2="552.9" stroke="#999" stroke-width="0.7"/>
<text x="481.7" y="562.9" font-size="6.3" fill="#333" textLength="22.4" lengthAdjust="spacingAndGlyphs">15-gene</text>
<line x1="512.4" y1="549.6" x2="512.4" y2="552.9" stroke="#999" stroke-width="0.7"/>
<text x="510.9" y="562.9" font-size="6.3" fill="#333" textLength="22.4" lengthAdjust="spacingAndGlyphs">20-gene</text>
<line x1="541.6" y1="549.6" x2="541.6" y2="552.9" stroke="#999" stroke-width="0.7"/>
<text x="540.1" y="562.9" font-size="6.3" fill="#333" textLength="22.4" lengthAdjust="spacingAndGlyphs">25-gene</text>
<line x1="570.8" y1="549.6" x2="570.8" y2="552.9" stroke="#999" stroke-width="0.7"/>
<text x="569.3" y="562.9" font-size="6.3" fill="#333" textLength="22.4" lengthAdjust="spacingAndGlyphs">30-gene</text>
<line x1="600.0" y1="549.6" x2="600.0" y2="552.9" stroke="#999" stroke-width="0.7"/>
<text x="598.5" y="562.9" font-size="6.3" fill="#333" textLength="22.4" lengthAdjust="spacingAndGlyphs">35-gene</text>
<line x1="629.2" y1="549.6" x2="629.2" y2="552.9" stroke="#999" stroke-width="0.7"/>
<text x="627.7" y="562.9" font-size="6.3" fill="#333" textLength="22.4" lengthAdjust="spacingAndGlyphs">40-gene</text>
<text x="467.2" y="332.7" font-size="8.4" font-weight="bold" fill="#222" textLength="117.9" lengthAdjust="spacingAndGlyphs">High Amplitude CellCycle Genes</text>
<text transform="translate(378.3,446.8) rotate(-90)" font-size="6.4" fill="#333" textLength="74.1" lengthAdjust="spacingAndGlyphs">-log2Enrichment p-values</text>
</svg></body></html>
